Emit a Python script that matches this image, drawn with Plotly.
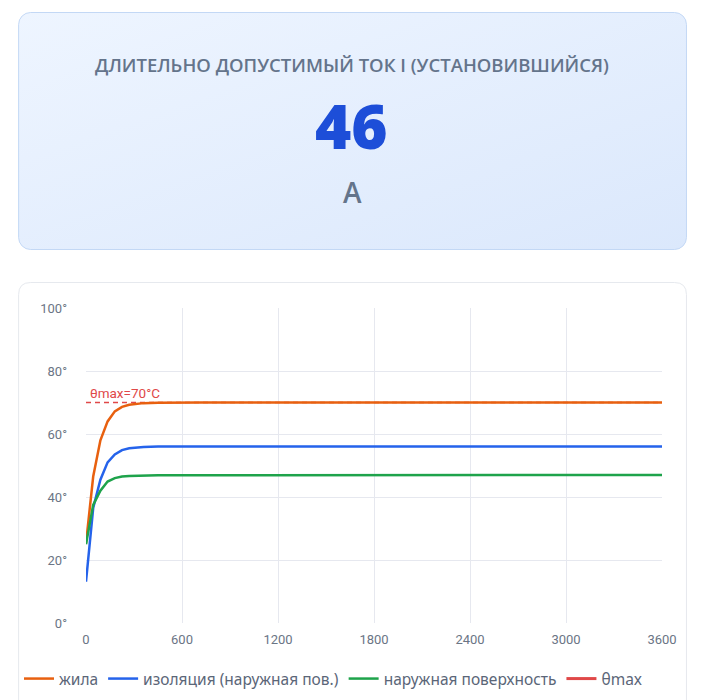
import plotly.graph_objects as go
import base64

# ---- data ----
time_s = [0, 45, 90, 135, 180, 225, 270, 315, 360, 450, 540, 720, 900, 1200, 1800, 2400, 3000, 3600]
core_temp = [25.3, 46.5, 58.0, 64.0, 67.2, 68.6, 69.3, 69.6, 69.8, 69.9, 70.0, 70.0, 70.0, 70.0, 70.0, 70.0, 70.0, 70.0]
insul_temp = [13.1, 36.5, 45.5, 51.0, 53.5, 54.9, 55.5, 55.8, 55.9, 56.0, 56.0, 56.0, 56.0, 56.0, 56.0, 56.0, 56.0, 56.0]
surface_temp = [25.0, 37.5, 42.0, 44.9, 46.0, 46.5, 46.7, 46.8, 46.9, 46.9, 46.9, 46.9, 47.0, 47.0, 47.0, 47.0, 47.0, 47.0]
theta_max = 70
series_names = ["жила", "изоляция (наружная пов.)", "наружная поверхность", "θmax"]
x_ticks = [0, 600, 1200, 1800, 2400, 3000, 3600]
y_ticks = [0, 20, 40, 60, 80, 100]
y_ticktext = [f"{v}°" for v in y_ticks]
title_text = "ДЛИТЕЛЬНО ДОПУСТИМЫЙ ТОК I (УСТАНОВИВШИЙСЯ)"
current_value = "46"
current_unit = "A"

OFF = 8  # page margin offset
W, H = 709 - 2 * OFF, 700
L, R, T, B = 85, 662, 308, 623  # plot area in reference-page pixels


def px(x):
    return (x - L) / (R - L)


def py(y):
    return (B - y) / (B - T)


def rrect(x0, y0, x1, y1, r):
    pts = [
        f"M {px(x0 + r)},{py(y0)}",
        f"L {px(x1 - r)},{py(y0)}",
        f"Q {px(x1)},{py(y0)} {px(x1)},{py(y0 + r)}",
        f"L {px(x1)},{py(y1 - r)}",
        f"Q {px(x1)},{py(y1)} {px(x1 - r)},{py(y1)}",
        f"L {px(x0 + r)},{py(y1)}",
        f"Q {px(x0)},{py(y1)} {px(x0)},{py(y1 - r)}",
        f"L {px(x0)},{py(y0 + r)}",
        f"Q {px(x0)},{py(y0)} {px(x0 + r)},{py(y0)}",
        "Z",
    ]
    return " ".join(pts)


ORANGE = "#e8600f"
BLUE = "#2563eb"
GREEN = "#1ea34b"
RED = "#e04848"

fig = go.Figure()

fig.add_trace(go.Scatter(
    x=[x_ticks[0], x_ticks[-1]], y=[theta_max, theta_max], mode="lines",
    line=dict(color=RED, width=1.3, dash="5px,4px"), showlegend=False, hoverinfo="skip"))

for name, vals, col in zip(series_names[:3], [core_temp, insul_temp, surface_temp], [ORANGE, BLUE, GREEN]):
    fig.add_trace(go.Scatter(x=time_s, y=vals, mode="lines", name=name,
                             line=dict(color=col, width=2.5)))

fig.add_trace(go.Scatter(x=[None], y=[None], mode="lines", name=series_names[3],
                         line=dict(color=RED, width=3)))

svg = '''<svg xmlns="http://www.w3.org/2000/svg" width="670" height="238" viewBox="0 0 670 238">
<defs><linearGradient id="g" x1="0" y1="0" x2="1" y2="1">
<stop offset="0" stop-color="#eef5ff"/><stop offset="1" stop-color="#dbe8fc"/></linearGradient></defs>
<rect x="0.5" y="0.5" width="669" height="237" rx="12" ry="12" fill="url(#g)" stroke="#c3d8f5" stroke-width="1"/>
</svg>'''
uri = "data:image/svg+xml;base64," + base64.b64encode(svg.encode()).decode()

fig.add_layout_image(dict(source=uri, xref="paper", yref="paper",
                          x=px(17), y=py(12), sizex=px(687) - px(17), sizey=py(12) - py(250),
                          xanchor="left", yanchor="top", sizing="stretch", layer="below"))

shapes = [
    dict(type="path", path=rrect(17.5, 282.5, 686.5, 740, 12), xref="paper", yref="paper",
         line=dict(color="#e6e9ee", width=1), fillcolor="white", layer="below"),
]

annotations = [
    dict(text=title_text, x=px(351), y=py(64), xref="paper", yref="paper", showarrow=False,
         font=dict(family="Open Sans", size=18.5, color="#64748b", weight=600), xanchor="center", yanchor="middle"),
    dict(text=current_value, x=px(351), y=py(125), xref="paper", yref="paper", showarrow=False,
         font=dict(family="Open Sans", size=62, color="#1d4ed8", weight=800), xanchor="center", yanchor="middle"),
    dict(text=current_unit, x=px(352), y=py(192), xref="paper", yref="paper", showarrow=False,
         font=dict(family="Open Sans", size=28, color="#64748b", weight=600), xanchor="center", yanchor="middle"),
    dict(text=f"θmax={theta_max}°C", x=0, y=theta_max, xref="x", yref="y", showarrow=False,
         xanchor="left", yanchor="bottom", xshift=2, yshift=0,
         font=dict(family="Roboto", size=13.5, color=RED)),
]

fig.update_layout(
    width=W, height=H,
    margin=dict(l=L - OFF, r=(709 - OFF) - R, t=T - OFF, b=H - (B - OFF), pad=0),
    paper_bgcolor="white", plot_bgcolor="rgba(0,0,0,0)",
    shapes=shapes, annotations=annotations,
    showlegend=True,
    legend=dict(orientation="h", x=px(19), y=py(679), xanchor="left", yanchor="middle",
                font=dict(family="Noto Sans", size=15.5, color="#5b6678"),
                bgcolor="rgba(0,0,0,0)", itemwidth=30, tracegroupgap=0),
    xaxis=dict(range=[0, 3600], tickvals=x_ticks, ticktext=[str(v) for v in x_ticks],
               showgrid=True, gridcolor="#e6e8ef", gridwidth=1, zeroline=False,
               showline=False, ticks="", ticklabelstandoff=7,
               tickfont=dict(family="Roboto", size=13, color="#6b7585")),
    yaxis=dict(range=[0, 100], tickvals=y_ticks, ticktext=y_ticktext,
               showgrid=True, gridcolor="#e6e8ef", gridwidth=1, zeroline=False,
               showline=False, ticks="", ticklabelstandoff=18,
               tickfont=dict(family="Roboto", size=13, color="#6b7585")),
    hovermode=False,
)

fig.write_html("out.html")
